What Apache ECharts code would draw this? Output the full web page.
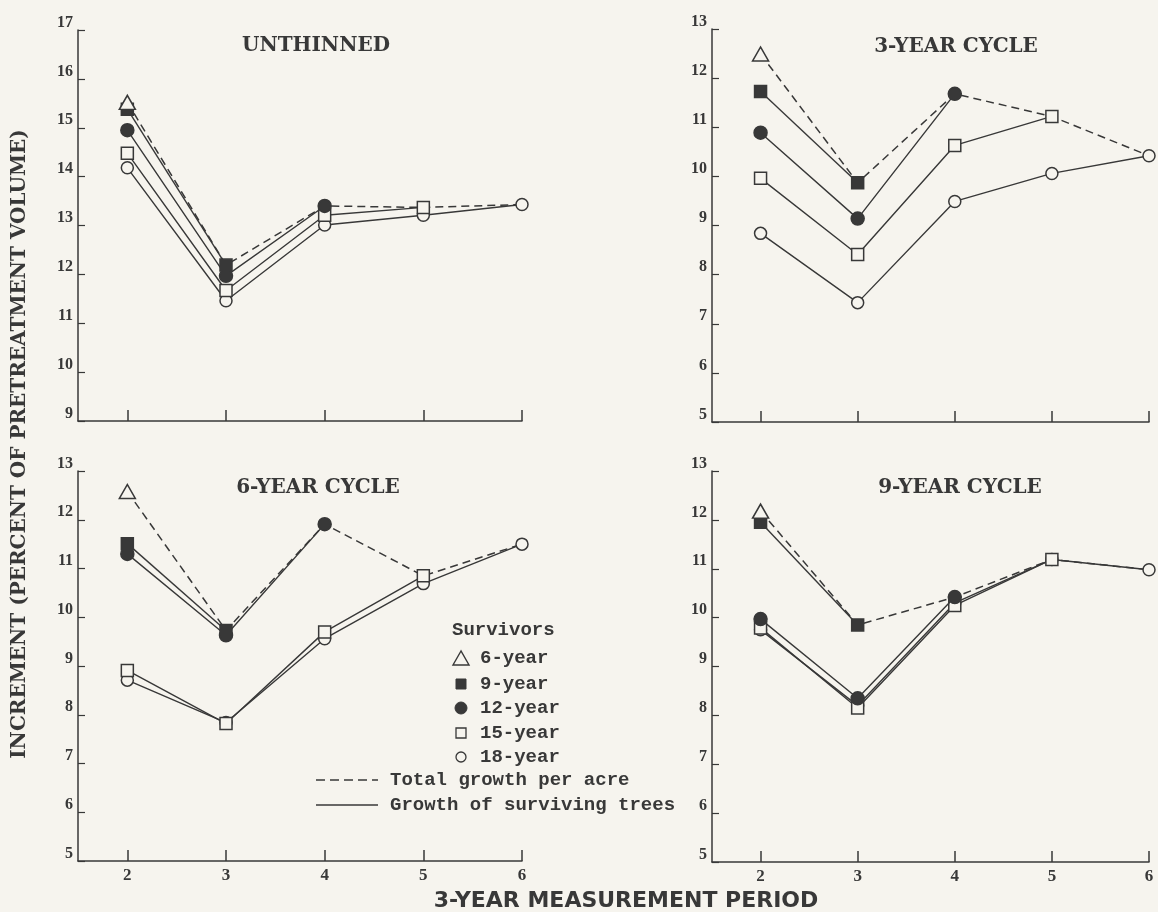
<!DOCTYPE html>
<html>
<head>
<meta charset="utf-8">
<script src="https://cdn.jsdelivr.net/npm/echarts@6/dist/echarts.min.js"></script>
<style>
  html, body { margin: 0; padding: 0; background: #f6f4ee; }
  #chart { width: 1158px; height: 912px; }
</style>
</head>
<body>
<div id="chart"></div>
<script>
// ---- data ----
const periods = [2, 3, 4, 5, 6];
const panelTitles = ['UNTHINNED', '3-YEAR CYCLE', '6-YEAR CYCLE', '9-YEAR CYCLE'];
const yMins = [9, 5, 5, 5];
const yMaxs = [17, 13, 13, 13];
const survivorNames = ['6-year', '9-year', '12-year', '15-year', '18-year'];

const unthinned6  = [15.52];
const unthinned9  = [15.38, 12.19];
const unthinned12 = [14.95, 11.97, 13.40];
const unthinned15 = [14.48, 11.67, 13.21, 13.37];
const unthinned18 = [14.18, 11.46, 13.01, 13.21, 13.43];

const cycle3y6  = [12.49];
const cycle3y9  = [11.73, 9.87];
const cycle3y12 = [10.89, 9.14, 11.68];
const cycle3y15 = [9.96, 8.41, 10.63, 11.22];
const cycle3y18 = [8.84, 7.43, 9.49, 10.06, 10.42];

const cycle6y6  = [12.58];
const cycle6y9  = [11.51, 9.73];
const cycle6y12 = [11.30, 9.63, 11.91];
const cycle6y15 = [8.91, 7.82, 9.70, 10.85];
const cycle6y18 = [8.71, 7.84, 9.56, 10.69, 11.50];

const cycle9y6  = [12.18];
const cycle9y9  = [11.95, 9.85];
const cycle9y12 = [9.97, 8.35, 10.42];
const cycle9y15 = [9.79, 8.15, 10.25, 11.19];
const cycle9y18 = [9.75, 8.20, 10.30, 11.19, 10.98];

const panels = [
  [unthinned6, unthinned9, unthinned12, unthinned15, unthinned18],
  [cycle3y6, cycle3y9, cycle3y12, cycle3y15, cycle3y18],
  [cycle6y6, cycle6y9, cycle6y12, cycle6y15, cycle6y18],
  [cycle9y6, cycle9y9, cycle9y12, cycle9y15, cycle9y18]
];

// ---- styling ----
const BG = '#f6f4ee';
const INK = '#383838';
const grids = [
  { left: 78,  top: 30,  width: 444, height: 391 },
  { left: 712, top: 29,  width: 437, height: 393 },
  { left: 78,  top: 471, width: 444, height: 390 },
  { left: 712, top: 471, width: 437, height: 391 }
];
const titlePos = [[316, 46], [956, 47], [318, 488], [960, 488]];

// symbol styles per survivor group
const symStyles = [
  { symbol: 'triangle', size: [16, 14], fill: BG },
  { symbol: 'rect', size: 12, fill: INK },
  { symbol: 'circle', size: 13, fill: INK },
  { symbol: 'rect', size: 12, fill: BG },
  { symbol: 'circle', size: 12, fill: BG }
];

const xAxes = [], yAxes = [], series = [];
panels.forEach(function (groups, p) {
  const bottom = p >= 2;
  xAxes.push({
    type: 'value', gridIndex: p, min: 1.5, max: 6,
    axisLine: { show: true, onZero: false, lineStyle: { color: INK, width: 1.5 } },
    axisTick: { show: true, inside: true, length: 11, customValues: periods,
                lineStyle: { color: INK, width: 1.5 } },
    axisLabel: { show: bottom, customValues: periods, margin: 6,
                 fontFamily: 'Liberation Serif', fontWeight: 'bold', fontSize: 17, color: INK },
    splitLine: { show: false }
  });
  yAxes.push({
    type: 'value', gridIndex: p, min: yMins[p], max: yMaxs[p], interval: 1,
    axisLine: { show: true, onZero: false, lineStyle: { color: INK, width: 1.5 } },
    axisTick: { show: true, inside: true, length: 7, lineStyle: { color: INK, width: 1.2 } },
    axisLabel: { show: true, margin: 5, verticalAlign: 'bottom', lineHeight: 15,
                 fontFamily: 'Liberation Serif', fontWeight: 'bold', fontSize: 16, color: INK },
    splitLine: { show: false }
  });
  // dashed total growth line: endpoint of each survivor group
  const total = groups.map(function (g, i) { return [periods[i], g[g.length - 1]]; });
  series.push({
    type: 'line', xAxisIndex: p, yAxisIndex: p, data: total, symbol: 'none', clip: false,
    lineStyle: { color: INK, width: 1.5, type: [8, 5] }, z: 2, silent: true
  });
  for (let i = groups.length - 1; i >= 0; i--) {
    const g = groups[i];
    const s = symStyles[i];
    series.push({
      name: survivorNames[i],
      type: 'line', xAxisIndex: p, yAxisIndex: p, clip: false,
      data: g.map(function (v, k) { return [periods[k], v]; }),
      symbol: s.symbol, symbolSize: s.size, showAllSymbol: true,
      itemStyle: { color: s.fill, borderColor: INK, borderWidth: 1.5 },
      lineStyle: { color: INK, width: 1.4 },
      z: 3 + (groups.length - i), silent: true
    });
  }
});

// ---- text & legend graphics ----
function txt(x, y, text, family, size, align, extra) {
  const el = { type: 'text', x: x, y: y,
    style: { text: text, fontFamily: family, fontWeight: 'bold', fontSize: size, fill: INK,
             textAlign: align, textVerticalAlign: 'middle' } };
  if (extra) Object.assign(el, extra);
  return el;
}
const graphics = [];
panelTitles.forEach(function (t, i) {
  graphics.push(txt(titlePos[i][0], titlePos[i][1], t, 'DejaVu Serif', 20, 'center'));
});
graphics.push(txt(20, 444, 'INCREMENT (PERCENT OF PRETREATMENT VOLUME)', 'DejaVu Serif', 20, 'center',
  { rotation: Math.PI / 2 }));
graphics.push(txt(626, 901, '3-YEAR MEASUREMENT PERIOD', 'DejaVu Sans', 22, 'center'));

const legFam = 'Liberation Mono';
graphics.push(txt(452, 630, 'Survivors', legFam, 19, 'left'));
const legY = [658, 684, 708, 733, 757];
survivorNames.forEach(function (n, i) {
  graphics.push(txt(480, legY[i], n, legFam, 19, 'left'));
});
graphics.push({ type: 'polygon', shape: { points: [[461, 651], [453, 665], [469, 665]] },
  style: { fill: BG, stroke: INK, lineWidth: 1.4 } });
graphics.push({ type: 'rect', shape: { x: 456, y: 679, width: 10, height: 10 },
  style: { fill: INK, stroke: INK, lineWidth: 1 } });
graphics.push({ type: 'circle', shape: { cx: 461, cy: 708, r: 6 },
  style: { fill: INK, stroke: INK, lineWidth: 1 } });
graphics.push({ type: 'rect', shape: { x: 456, y: 728, width: 10, height: 10 },
  style: { fill: BG, stroke: INK, lineWidth: 1.3 } });
graphics.push({ type: 'circle', shape: { cx: 461, cy: 757, r: 5 },
  style: { fill: BG, stroke: INK, lineWidth: 1.3 } });
graphics.push({ type: 'line', shape: { x1: 316, y1: 780, x2: 378, y2: 780 },
  style: { stroke: INK, lineWidth: 1.4, lineDash: [9, 5] } });
graphics.push({ type: 'line', shape: { x1: 316, y1: 805, x2: 378, y2: 805 },
  style: { stroke: INK, lineWidth: 1.4 } });
graphics.push(txt(390, 780, 'Total growth per acre', legFam, 19, 'left'));
graphics.push(txt(390, 805, 'Growth of surviving trees', legFam, 19, 'left'));

const chart = echarts.init(document.getElementById('chart'), null, { renderer: 'canvas' });
chart.setOption({
  backgroundColor: BG,
  animation: false,
  grid: grids,
  xAxis: xAxes,
  yAxis: yAxes,
  series: series,
  graphic: { elements: graphics }
});
</script>
</body>
</html>
